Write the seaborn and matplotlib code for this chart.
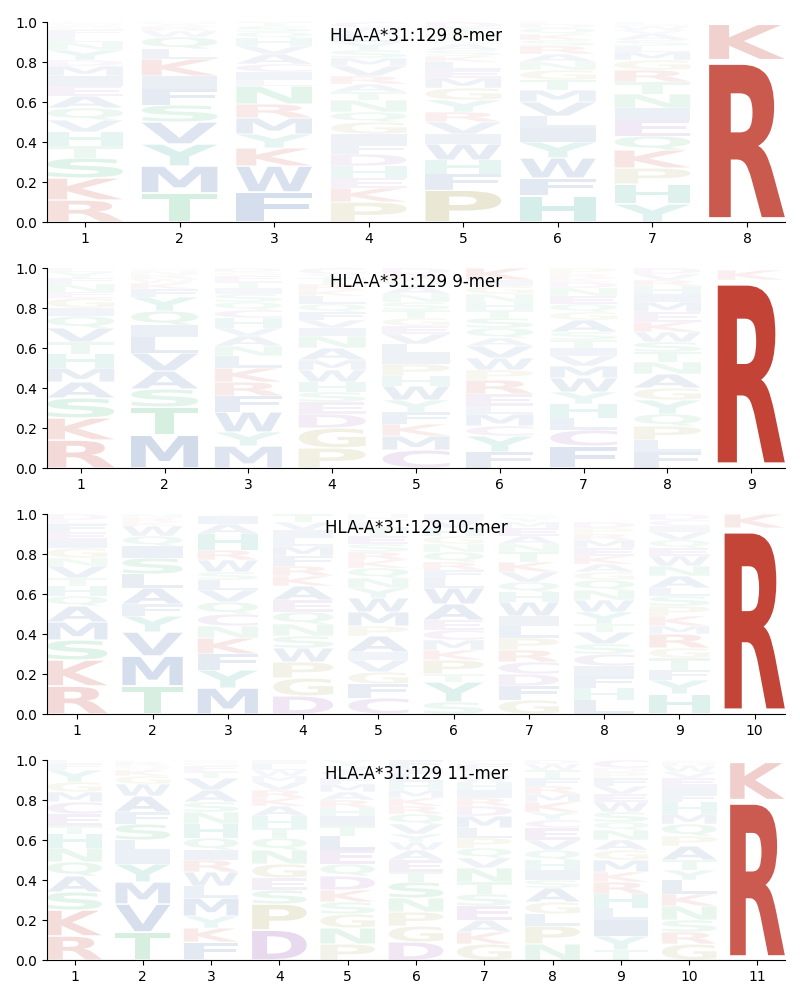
import numpy as np
import pandas as pd
import matplotlib
matplotlib.use("Agg")
import matplotlib.pyplot as plt
import seaborn as sns
from matplotlib.textpath import TextPath
from matplotlib.patches import PathPatch
from matplotlib.font_manager import FontProperties
from matplotlib.transforms import Affine2D

allele = "HLA-A*31:129"

# letters per position, listed bottom -> top, with their heights
letters_8 = ["RKSTHVQAEIMDYNLFGWC", "TMYVSFIKLQWRAN", "FWKYMRNLICAVHQST",
             "PKEHDFIGQNTARVMSYLWC", "PFHWIVRYGMELKSANQTD", "HFWYILVMTGNARSKQDE",
             "YHPKQEINTRGMLSAVWDF", "RK"]
heights_8 = [[.11, .11, .10, .06, .07, .06, .06, .06, .05, .05, .05, .03, .05, .04, .03, .03, .02, .01, .01],
             [.145, .135, .11, .11, .085, .08, .065, .085, .05, .06, .03, .02, .015, .01],
             [.15, .13, .09, .07, .08, .07, .09, .03, .04, .04, .05, .04, .04, .03, .03, .02],
             [.10, .07, .05, .06, .06, .05, .05, .06, .05, .06, .04, .04, .04, .05, .04, .04, .04, .04, .03, .03],
             [.16, .08, .07, .08, .05, .06, .05, .06, .06, .05, .04, .04, .03, .03, .03, .02, .03, .03, .03],
             [.13, .09, .10, .08, .07, .06, .07, .06, .05, .05, .04, .04, .04, .03, .03, .03, .02, .01],
             [.09, .10, .08, .09, .07, .08, .06, .07, .06, .06, .05, .04, .03, .03, .03, .02, .02, .01, .01],
             [.81, .18]]

letters_9 = ["RKSAMHTVQIGENFYL", "MTSAVLIQYFKWRNCH", "MYWFRKLNAVHCQSITEGD",
             "PGDESHWMANIVFQLKRTYC", "CMKFYWHPILVEGTSNAQRD", "FYCMLERPWVAQSTHNGIK",
             "FCLHYWMVITSAGQENDKRP", "FLPQYGANTSWKEMIHRVD", "RK"]
heights_9 = [[.14, .11, .10, .08, .07, .07, .06, .07, .06, .04, .05, .03, .04, .03, .03, .02],
             [.165, .14, .09, .09, .09, .08, .06, .07, .07, .04, .03, .02, .02, .02, .01, .005],
             [.11, .07, .10, .08, .07, .07, .06, .05, .05, .04, .05, .04, .04, .04, .03, .03, .03, .02, .02],
             [.10, .10, .07, .06, .05, .05, .06, .05, .06, .06, .04, .04, .04, .04, .04, .03, .03, .03, .02, .03],
             [.09, .07, .06, .06, .06, .07, .05, .06, .05, .05, .05, .04, .04, .04, .04, .04, .04, .03, .03, .03],
             [.08, .08, .05, .06, .04, .06, .07, .05, .06, .06, .04, .05, .05, .04, .04, .04, .04, .03, .06],
             [.11, .08, .06, .07, .06, .07, .06, .05, .04, .04, .04, .06, .04, .04, .04, .04, .03, .02, .02, .03],
             [.08, .06, .07, .06, .07, .06, .07, .06, .05, .05, .05, .05, .05, .05, .04, .04, .03, .03, .03],
             [.94, .05]]

letters_10 = ["RKSMAQHTVNGIEFLD", "TMVYFALSIQWKRN", "MYFKNCQVLSWRHAIT",
              "DGPWSNQEAKRFMLIVT", "CFGVIAPMWYNQKRSETLDH", "SYTPKMCEAWLFRQNGHVI",
              "GFDCRPLIWHQVKTNAEMYS", "LHFICSVTYWNQGAKEMRPD", "HYFTGRMKPSLANWEQVICD", "RK"]
heights_10 = [[.14, .13, .10, .09, .08, .05, .05, .04, .06, .04, .05, .04, .04, .04, .02, .03],
              [.14, .15, .12, .08, .06, .08, .07, .08, .06, .05, .05, .02, .02, .02],
              [.13, .09, .08, .08, .06, .06, .06, .06, .05, .04, .06, .05, .08, .05, .04, .01],
              [.09, .09, .08, .07, .06, .06, .06, .06, .07, .05, .05, .05, .05, .04, .04, .04, .04],
              [.08, .07, .06, .06, .04, .08, .05, .07, .07, .05, .05, .05, .04, .04, .04, .04, .04, .03, .02, .02],
              [.06, .10, .04, .07, .05, .05, .05, .05, .08, .08, .05, .04, .04, .05, .04, .04, .04, .04, .03],
              [.07, .07, .06, .06, .06, .06, .06, .05, .07, .05, .05, .05, .05, .05, .04, .04, .04, .03, .02, .02],
              [.07, .06, .06, .05, .06, .05, .06, .04, .06, .06, .05, .05, .04, .04, .04, .04, .04, .03, .03, .03],
              [.10, .07, .05, .06, .05, .07, .04, .05, .05, .05, .04, .06, .05, .05, .04, .04, .04, .03, .03, .03],
              [.93, .07]]

letters_11 = ["RKSAQNHTECMGYFL", "TVMYILSFAWGKQRE", "FKYMLWRIQHNSAVTEGD",
              "DPSEGNQTHAKRVMWLI", "PNGSKDQELTIHRAMFWVY", "DGPNSTEAWYVQRKMHLIF",
              "GKAESTNVQPLMDRIHWYFC", "NPLGASIHQVECYKMRFTWD", "TYILHRKMGANQSWEVFPDC",
              "GRSNKLYTAPQMHFIEVWDC", "RK"]
heights_11 = [[.12, .13, .09, .08, .07, .07, .07, .04, .06, .06, .05, .05, .06, .03, .02],
              [.14, .14, .11, .09, .06, .06, .08, .06, .08, .06, .04, .03, .02, .02, .01],
              [.09, .07, .06, .09, .06, .07, .06, .05, .06, .07, .06, .05, .06, .06, .03, .03, .02, .01],
              [.15, .13, .07, .06, .07, .07, .06, .05, .06, .05, .04, .04, .04, .03, .03, .03, .02],
              [.08, .08, .07, .06, .06, .07, .06, .07, .07, .05, .05, .04, .04, .04, .04, .03, .03, .03, .03],
              [.09, .08, .07, .07, .08, .05, .06, .05, .04, .04, .05, .05, .04, .04, .04, .04, .04, .03, .04],
              [.08, .06, .06, .07, .06, .06, .07, .05, .05, .05, .05, .06, .05, .04, .04, .04, .03, .03, .03, .02],
              [.08, .09, .06, .06, .07, .04, .05, .05, .05, .05, .06, .04, .04, .05, .04, .04, .04, .04, .03, .02],
              [.05, .07, .08, .06, .07, .06, .05, .06, .05, .05, .05, .04, .05, .05, .04, .04, .04, .03, .02, .04],
              [.08, .06, .06, .07, .06, .07, .05, .05, .07, .05, .06, .05, .06, .04, .04, .04, .03, .03, .02, .01],
              [.80, .19]]

motifs = [(8, letters_8, heights_8), (9, letters_9, heights_9),
          (10, letters_10, heights_10), (11, letters_11, heights_11)]

colors = {}
for aa in "RK":
    colors[aa] = "#c0392b"
for aa in "HY":
    colors[aa] = "#16a085"
for aa in "AVLIMFW":
    colors[aa] = "#2c5aa0"
for aa in "STNQ":
    colors[aa] = "#27ae60"
for aa in "GP":
    colors[aa] = "#a0963c"
for aa in "DEC":
    colors[aa] = "#8e44ad"

# long table of all stacked letters
rows = []
for length, lets, hts in motifs:
    for i, (s, h) in enumerate(zip(lets, hts)):
        for aa, v in zip(s, h):
            rows.append({"length": length, "pos": i + 1, "aa": aa, "height": v})
df = pd.DataFrame(rows)
df["bottom"] = df.groupby(["length", "pos"])["height"].cumsum() - df["height"]
# opacity follows the letter's frequency
df["alpha"] = np.clip(df["height"] ** 0.85, 0, 1)

font = FontProperties(family="DejaVu Sans", weight="bold")
glyphs = {aa: TextPath((0, 0), aa, size=1, prop=font) for aa in colors}

def draw_letter(ax, aa, x, y, w, h, color, alpha):
    p = glyphs[aa]
    bb = p.get_extents()
    pad = h * 0.03
    t = (Affine2D().translate(-bb.x0, -bb.y0)
         .scale(w / bb.width, (h - 2 * pad) / bb.height)
         .translate(x, y + pad))
    ax.add_patch(PathPatch(t.transform_path(p), fc=color, ec="none", lw=0, alpha=alpha))

sns.set_style("ticks", {"axes.edgecolor": "black", "text.color": "black",
                        "xtick.color": "black", "ytick.color": "black"})
fig, axes = plt.subplots(4, 1, figsize=(8, 10), dpi=100)
fig.subplots_adjust(left=0.059, right=0.981, top=0.978, bottom=0.04, hspace=0.23)

width = 0.8
for ax, (length, lets, hts) in zip(axes, motifs):
    sub = df[df["length"] == length]
    for _, r in sub.iterrows():
        draw_letter(ax, r["aa"], r["pos"] - width / 2, r["bottom"], width, r["height"],
                    colors[r["aa"]], r["alpha"])
    ax.set_xlim(0.6, length + 0.4)
    ax.set_ylim(0, 1)
    ax.set_xticks(range(1, length + 1))
    ax.set_yticks(np.arange(0, 1.01, 0.2))
    ax.set_yticklabels([f"{v:.1f}" for v in np.arange(0, 1.01, 0.2)])
    ax.text(0.5, 0.93, f"{allele} {length}-mer", transform=ax.transAxes,
            ha="center", va="center", fontsize=12, color="black")
    sns.despine(ax=ax)

fig.savefig("out.png", dpi=100)
